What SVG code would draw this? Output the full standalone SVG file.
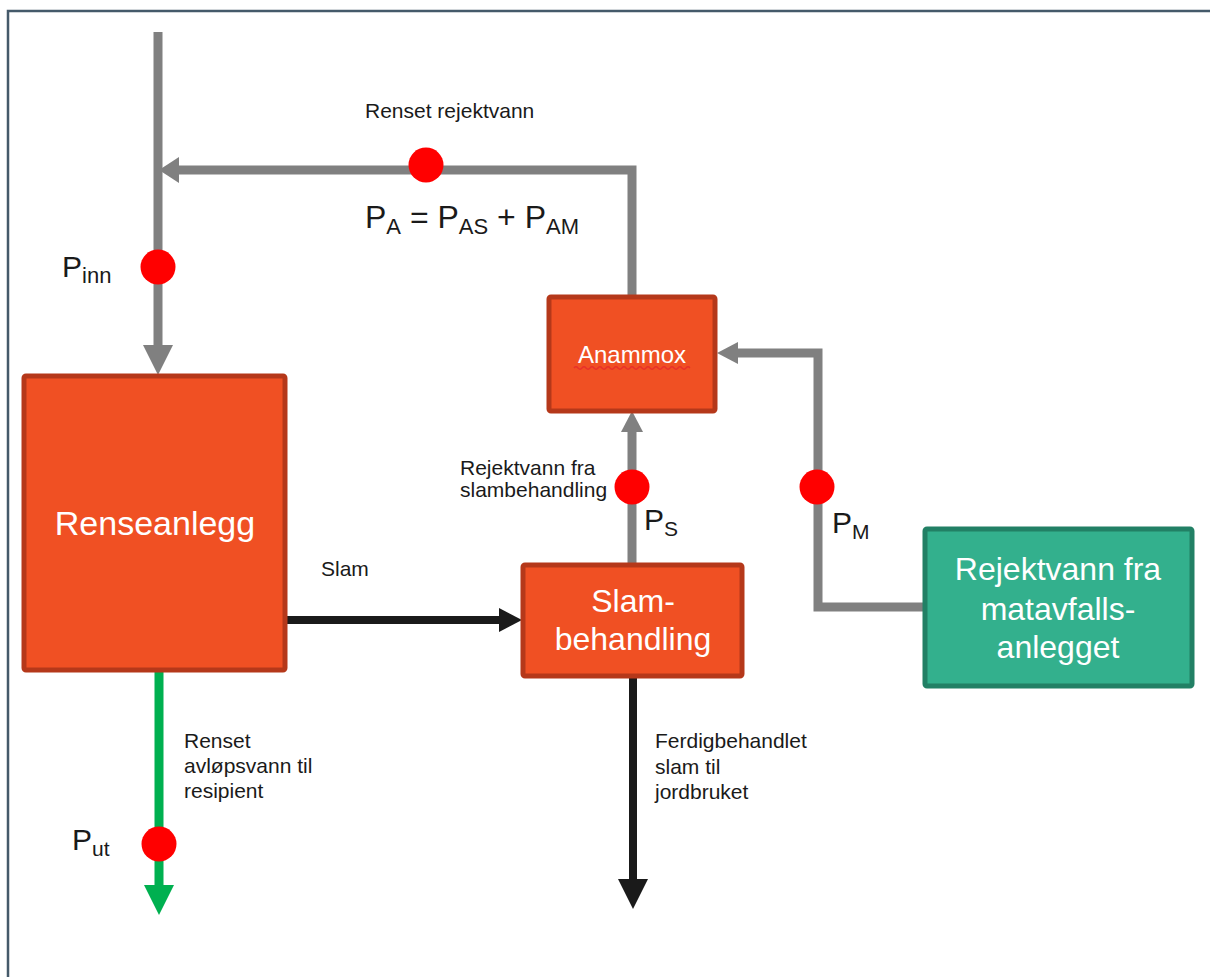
<svg xmlns="http://www.w3.org/2000/svg" width="1210" height="977" viewBox="0 0 1210 977">
<defs>
<style>
.t{font-family:"Liberation Sans",Arial,sans-serif;fill:#1a1a1a}
.w{font-family:"Liberation Sans",Arial,sans-serif;fill:#ffffff;text-anchor:middle}
.g{stroke:#808080;stroke-width:9;fill:none}
.k{stroke:#1a1a1a;stroke-width:8;fill:none}
.gr{stroke:#00b050;stroke-width:9;fill:none}
.dot{fill:#ff0000}
.box{fill:#f05023;stroke:#b5381a;stroke-width:5}
</style>
</defs>
<rect width="1210" height="977" fill="#ffffff"/>
<path d="M8,977 V11 H1210" fill="none" stroke="#455a6a" stroke-width="2.5"/>
<g id="connectors">
<path class="g" d="M158,32 V348"/>
<polygon points="143,345 173,345 158,375" fill="#808080"/>
<path class="g" d="M632,295 V170 H175"/>
<polygon points="179,157 179,183 159,170" fill="#808080"/>
<path class="g" d="M632,563 V430"/>
<polygon points="621,432 643,432 632,411" fill="#808080"/>
<path class="g" d="M923,607 H818 V353 H736"/>
<polygon points="738,342 738,364 717,353" fill="#808080"/>
<path class="k" d="M287,620 H502"/>
<polygon points="499,608 499,632 522,620" fill="#1a1a1a"/>
<path class="k" d="M633,678 V882"/>
<polygon points="618,879 648,879 633,909" fill="#1a1a1a"/>
<path class="gr" d="M159,672 V888"/>
<polygon points="144,885 174,885 159,915" fill="#00b050"/>
</g>
<g id="dots">
<circle class="dot" cx="158" cy="267" r="17.5"/>
<circle class="dot" cx="426" cy="165" r="17.5"/>
<circle class="dot" cx="632" cy="487" r="17.5"/>
<circle class="dot" cx="817" cy="487" r="17.5"/>
<circle class="dot" cx="159" cy="844" r="17.5"/>
</g>
<g id="renseanlegg">
<rect class="box" x="24" y="376" width="261" height="294" rx="2"/>
<text class="w" x="155" y="535" font-size="34">Renseanlegg</text>
</g>
<g id="anammox">
<rect class="box" x="549" y="297" width="166" height="114" rx="2"/>
<text class="w" x="632" y="363" font-size="24">Anammox</text>
<path d="M574,368 q2,-2.5 4,0 t4,0 t4,0 t4,0 t4,0 t4,0 t4,0 t4,0 t4,0 t4,0 t4,0 t4,0 t4,0 t4,0 t4,0 t4,0 t4,0 t4,0 t4,0 t4,0 t4,0 t4,0 t4,0 t4,0 t4,0 t4,0 t4,0 t4,0 t4,0" fill="none" stroke="#e8302a" stroke-width="1.3"/>
</g>
<g id="slambehandling">
<rect class="box" x="523" y="565" width="219" height="111" rx="2"/>
<text class="w" x="633" y="612" font-size="32">Slam-</text>
<text class="w" x="633" y="650" font-size="32">behandling</text>
</g>
<g id="matavfall">
<rect x="925" y="529" width="267" height="157" rx="2" fill="#33b08d" stroke="#228065" stroke-width="5"/>
<text class="w" x="1058" y="580" font-size="32">Rejektvann fra</text>
<text class="w" x="1058" y="620" font-size="32">matavfalls-</text>
<text class="w" x="1058" y="658" font-size="32">anlegget</text>
</g>
<g id="labels">
<text class="t" x="365" y="118" font-size="21">Renset rejektvann</text>
<text class="t" x="365" y="228" font-size="32">P<tspan font-size="22" dy="6">A</tspan><tspan dy="-6"> = P</tspan><tspan font-size="22" dy="6">AS</tspan><tspan dy="-6"> + P</tspan><tspan font-size="22" dy="6">AM</tspan></text>
<text class="t" x="62" y="277" font-size="30">P<tspan font-size="22" dy="6">inn</tspan></text>
<text class="t" x="460" y="475" font-size="21">Rejektvann fra</text>
<text class="t" x="460" y="497" font-size="21">slambehandling</text>
<text class="t" x="644" y="530" font-size="30">P<tspan font-size="21" dy="6">S</tspan></text>
<text class="t" x="832" y="533" font-size="30">P<tspan font-size="21" dy="6">M</tspan></text>
<text class="t" x="321" y="576" font-size="21">Slam</text>
<text class="t" x="184" y="748" font-size="21">Renset</text>
<text class="t" x="184" y="773" font-size="21">avløpsvann til</text>
<text class="t" x="184" y="798" font-size="21">resipient</text>
<text class="t" x="72" y="850" font-size="30">P<tspan font-size="21" dy="6">ut</tspan></text>
<text class="t" x="655" y="748" font-size="21">Ferdigbehandlet</text>
<text class="t" x="655" y="774" font-size="21">slam til</text>
<text class="t" x="655" y="799" font-size="21">jordbruket</text>
</g>
</svg>
